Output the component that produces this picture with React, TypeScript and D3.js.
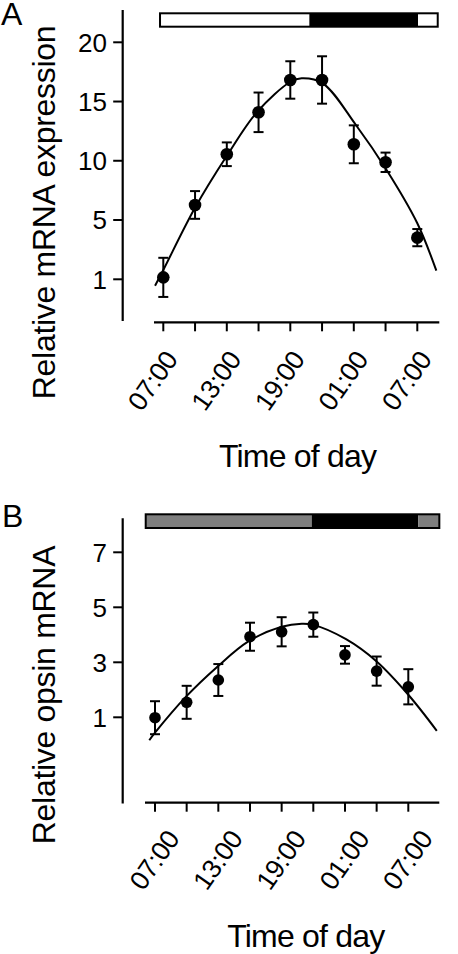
import React from "react";
import * as d3 from "d3";

// ---- data ----
const hours = [0, 3, 6, 9, 12, 15, 18, 21, 24];
const timeLabels = ["07:00", "", "13:00", "", "19:00", "", "01:00", "", "07:00"];

const meanA = [1.13, 6.27, 10.55, 14.09, 16.82, 16.82, 11.39, 9.87, 3.81];
const semA = [1.32, 1.17, 1.0, 1.67, 1.58, 2.0, 1.6, 0.82, 0.58];
const fitHoursA = [-0.78, 0, 2.97, 5.99, 8.88, 12.03, 13.07, 15.06, 18.2, 21.1, 24.0, 25.8];
const fitA = [0.57, 1.63, 5.99, 10.4, 14.14, 16.67, 16.96, 16.54, 13.02, 9.22, 4.78, 1.58];
const yTicksA = [1, 5, 10, 15, 20];
// photoperiod bar: light start, dark start, dark end, light end (hours)
const barA = [-0.31, 13.8, 24.07, 25.93];

const meanB = [0.985, 1.545, 2.356, 3.93, 4.11, 4.37, 3.27, 2.68, 2.11];
const semB = [0.6, 0.6, 0.58, 0.51, 0.53, 0.44, 0.32, 0.53, 0.64];
const fitHoursB = [-0.54, 0, 2.94, 5.91, 8.85, 12.0, 13.9, 15.0, 18.1, 21.0, 24.0, 26.7];
const fitB = [0.165, 0.44, 1.75, 2.84, 3.76, 4.29, 4.4, 4.36, 3.84, 3.03, 1.82, 0.51];
const yTicksB = [1, 3, 5, 7];
const barB = [-0.88, 14.85, 24.95, 26.94];

const FONT = "'Liberation Sans', Arial, Helvetica, sans-serif";

type PanelProps = {
  letter: string;
  letterX: number;
  letterY: number;
  yLabel: string;
  yLabelCY: number;
  x: d3.ScaleLinear<number, number>;
  y: d3.ScaleLinear<number, number>;
  yAxisTop: number;
  yAxisBottom: number;
  xAxisY: number;
  xAxisX1: number;
  xAxisX2: number;
  yTicks: number[];
  means: number[];
  sems: number[];
  fitH: number[];
  fitV: number[];
  bar: number[];
  barTop: number;
  barH: number;
  lightFill: string;
  labelDx: number;
  labelDy: number;
  titleCX: number;
  titleY: number;
  r: number;
};

function Panel(p: PanelProps) {
  const axisX = 122.7;
  const line = d3
    .line<number>()
    .x((_, i) => p.x(p.fitH[i]))
    .y((d) => p.y(d))
    .curve(d3.curveCatmullRom.alpha(0.5));
  const [b0, b1, b2, b3] = p.bar;
  return (
    <g>
      <text x={p.letterX} y={p.letterY} fontSize={32} fontFamily={FONT}>
        {p.letter}
      </text>
      {/* y label */}
      <text
        transform={`translate(55,${p.yLabelCY}) rotate(-90)`}
        textAnchor="middle"
        fontSize={32}
        fontFamily={FONT}
        letterSpacing={-0.3}
      >
        {p.yLabel}
      </text>
      {/* photoperiod bar */}
      <rect x={p.x(b0)} y={p.barTop} width={p.x(b1) - p.x(b0)} height={p.barH} fill={p.lightFill} />
      <rect x={p.x(b1)} y={p.barTop} width={p.x(b2) - p.x(b1)} height={p.barH} fill="#000" />
      <rect x={p.x(b2)} y={p.barTop} width={p.x(b3) - p.x(b2)} height={p.barH} fill={p.lightFill} />
      <rect
        x={p.x(b0)}
        y={p.barTop}
        width={p.x(b3) - p.x(b0)}
        height={p.barH}
        fill="none"
        stroke="#000"
        strokeWidth={2}
      />
      {/* y axis */}
      <line x1={axisX} x2={axisX} y1={p.yAxisTop} y2={p.yAxisBottom} stroke="#000" strokeWidth={2.2} />
      {p.yTicks.map((t) => (
        <g key={t}>
          <line x1={axisX - 9.5} x2={axisX} y1={p.y(t)} y2={p.y(t)} stroke="#000" strokeWidth={2} />
          <text
            x={107}
            y={p.y(t)}
            dy="0.36em"
            textAnchor="end"
            fontSize={26}
            fontFamily={FONT}
          >
            {t}
          </text>
        </g>
      ))}
      {/* x axis */}
      <line x1={p.xAxisX1} x2={p.xAxisX2} y1={p.xAxisY} y2={p.xAxisY} stroke="#000" strokeWidth={2.2} />
      {hours.map((h, i) => (
        <g key={i}>
          <line x1={p.x(h)} x2={p.x(h)} y1={p.xAxisY} y2={p.xAxisY + 9} stroke="#000" strokeWidth={2} />
          {timeLabels[i] && (
            <text
              transform={`translate(${p.x(h) + p.labelDx},${p.xAxisY + p.labelDy}) rotate(-55)`}
              textAnchor="end"
              fontSize={26.5}
              fontFamily={FONT}
              letterSpacing={-0.3}
            >
              {timeLabels[i]}
            </text>
          )}
        </g>
      ))}
      <text
        x={p.titleCX}
        y={p.titleY}
        textAnchor="middle"
        fontSize={32}
        fontFamily={FONT}
        letterSpacing={-0.8}
      >
        Time of day
      </text>
      {/* fit curve */}
      <path d={line(p.fitV) || ""} fill="none" stroke="#000" strokeWidth={2} />
      {/* error bars and points */}
      {hours.map((h, i) => {
        const cx = p.x(h);
        const yt = p.y(p.means[i] + p.sems[i]);
        const yb = p.y(p.means[i] - p.sems[i]);
        return (
          <g key={"pt" + i}>
            <line x1={cx} x2={cx} y1={yt} y2={yb} stroke="#000" strokeWidth={2} />
            <line x1={cx - 5} x2={cx + 5} y1={yt} y2={yt} stroke="#000" strokeWidth={2} />
            <line x1={cx - 5} x2={cx + 5} y1={yb} y2={yb} stroke="#000" strokeWidth={2} />
            <circle cx={cx} cy={p.y(p.means[i])} r={p.r} fill="#000" />
          </g>
        );
      })}
    </g>
  );
}

export default function App() {
  const xA = d3.scaleLinear().domain([0, 24]).range([163.3, 417.3]);
  const yA = d3.scaleLinear().domain([1, 5, 20]).range([279.3, 220, 42.3]);
  const xB = d3.scaleLinear().domain([0, 24]).range([155, 408.3]);
  const yB = d3.scaleLinear().domain([1, 7]).range([717.3, 552.3]);
  return (
    <div style={{ position: "absolute", left: 0, top: 0 }}>
      <svg width={458} height={954} style={{ display: "block", background: "#fff" }}>
        <Panel
          letter="A"
          letterX={1}
          letterY={25}
          yLabel="Relative mRNA expression"
          yLabelCY={212.5}
          x={xA}
          y={yA}
          yAxisTop={10}
          yAxisBottom={321}
          xAxisY={322.3}
          xAxisX1={154}
          xAxisX2={439.3}
          yTicks={yTicksA}
          means={meanA}
          sems={semA}
          fitH={fitHoursA}
          fitV={fitA}
          bar={barA}
          barTop={13.3}
          barH={13.4}
          lightFill="#fff"
          labelDx={15.5}
          labelDy={37}
          titleCX={297.5}
          titleY={466.7}
          r={6.3}
        />
        <Panel
          letter="B"
          letterX={2}
          letterY={527}
          yLabel="Relative opsin mRNA"
          yLabelCY={695}
          x={xB}
          y={yB}
          yAxisTop={518.3}
          yAxisBottom={803.5}
          xAxisY={802.7}
          xAxisX1={145}
          xAxisX2={439.3}
          yTicks={yTicksB}
          means={meanB}
          sems={semB}
          fitH={fitHoursB}
          fitV={fitB}
          bar={barB}
          barTop={514.3}
          barH={13.7}
          lightFill="#7f7f7f"
          labelDx={25.5}
          labelDy={36}
          titleCX={305.8}
          titleY={946.7}
          r={5.8}
        />
      </svg>
    </div>
  );
}
